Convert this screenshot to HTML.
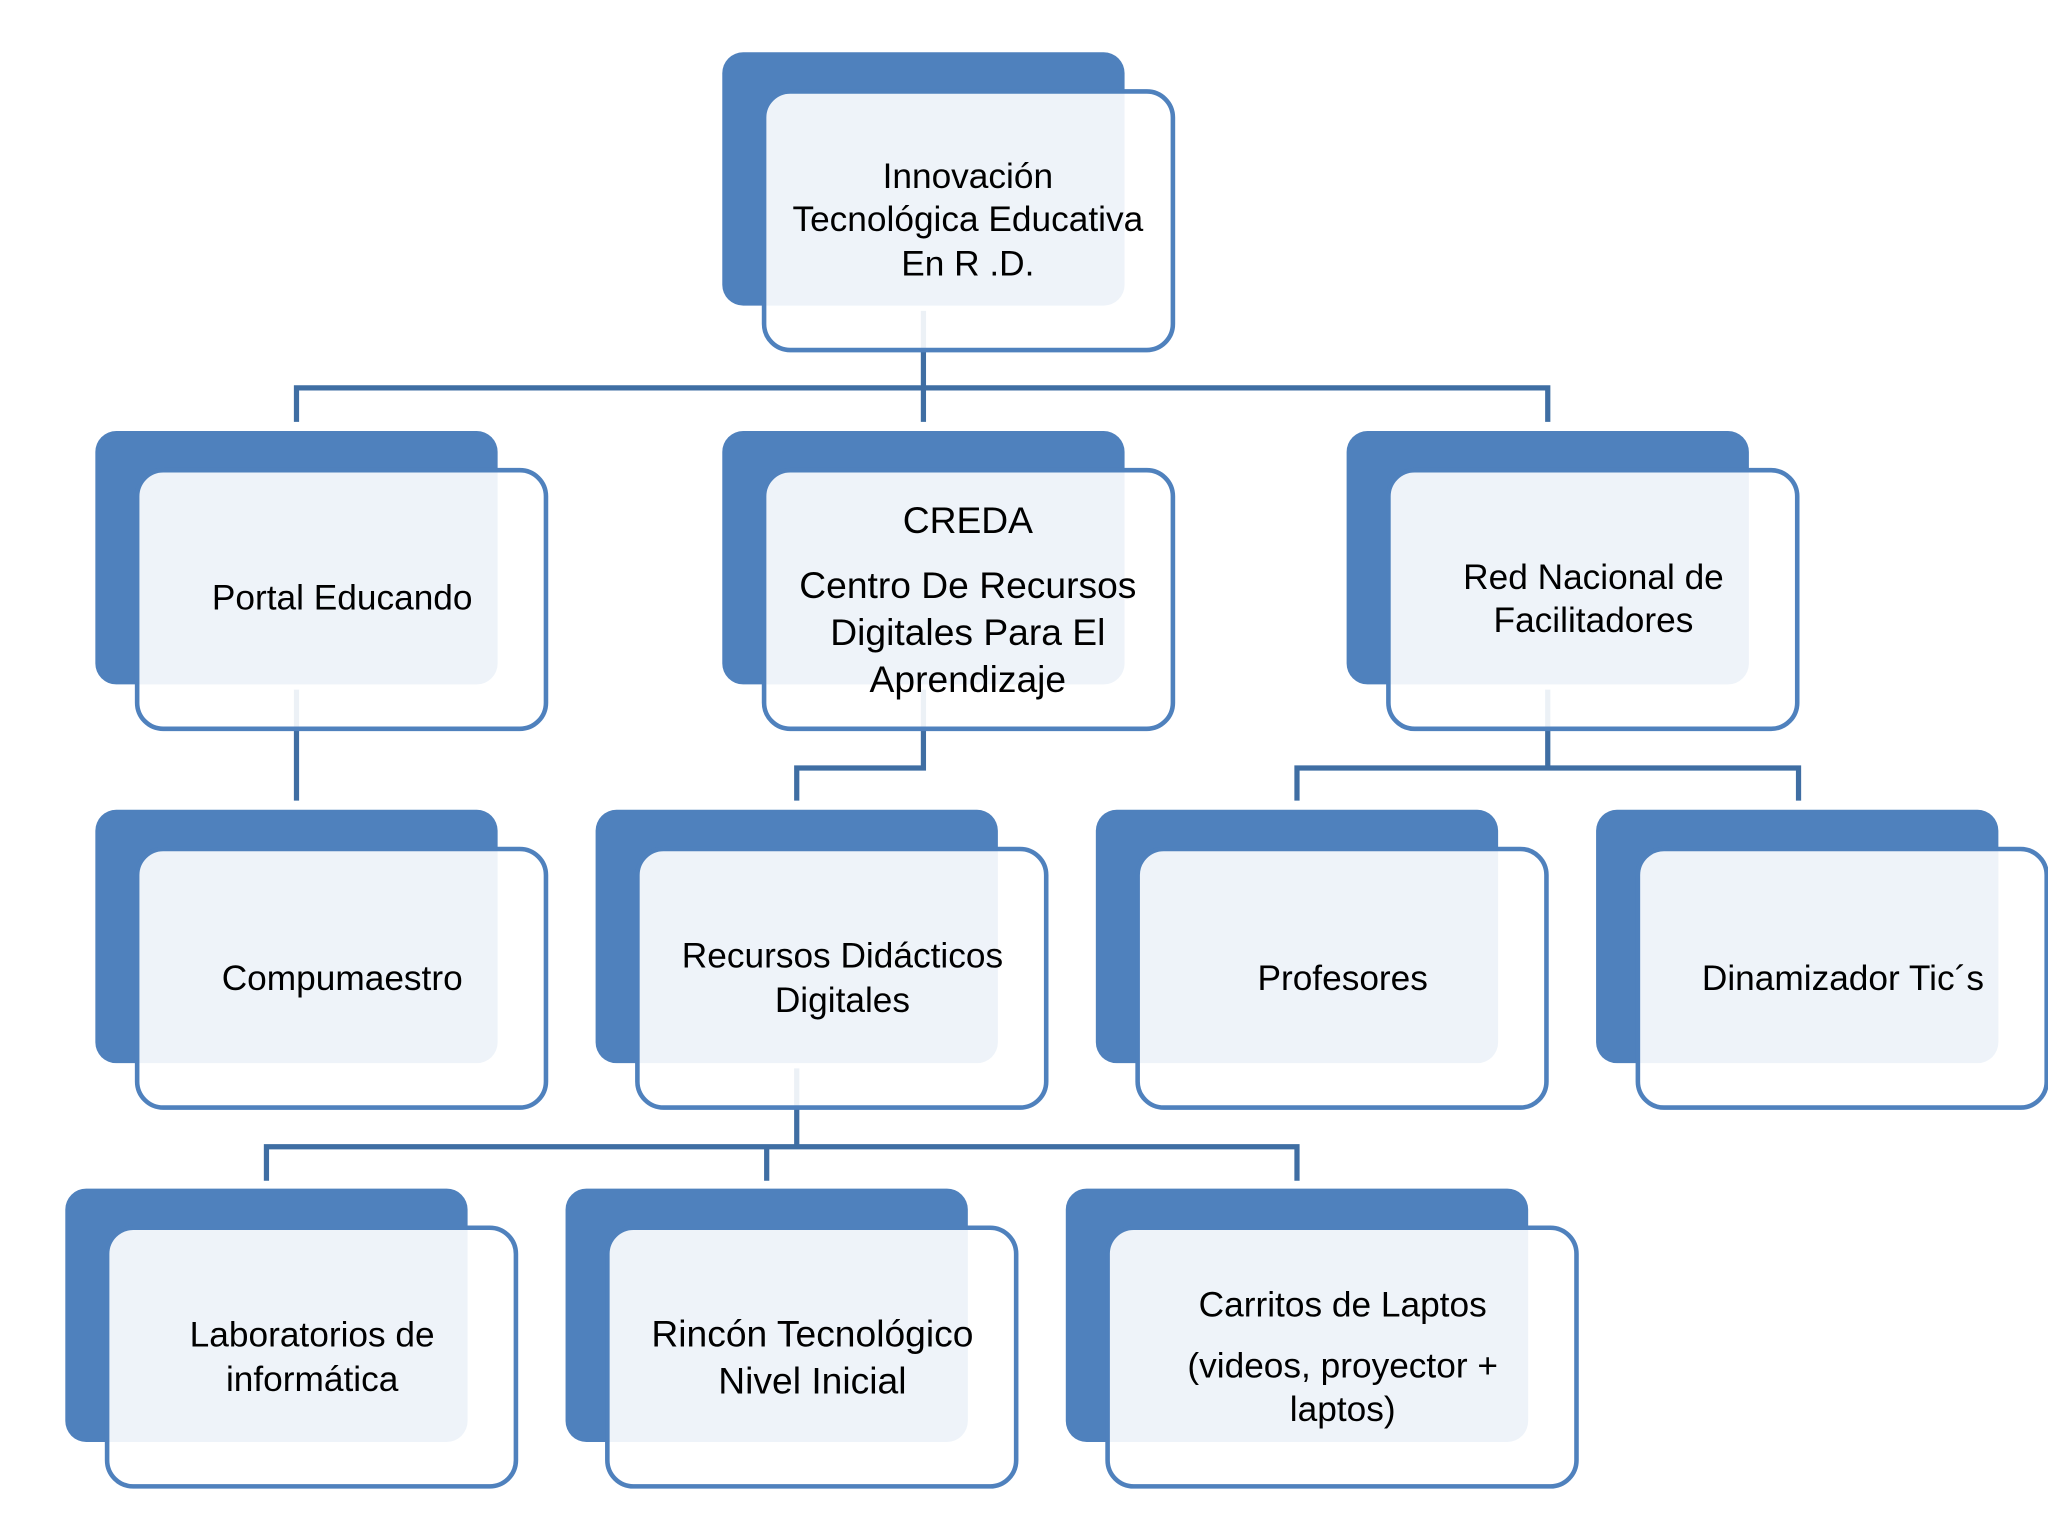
<!DOCTYPE html>
<html><head><meta charset="utf-8"><style>
html,body{margin:0;padding:0;background:#fff;}
svg{display:block;}
text{font-family:"Liberation Sans",sans-serif;fill:#000;text-anchor:middle;dominant-baseline:central;}
</style></head><body>
<svg width="2048" height="1536" viewBox="0 0 1568 1176" xmlns="http://www.w3.org/2000/svg">
<g fill="#4f81bd">
<rect x="553" y="40" width="308" height="194" rx="16"/>
<rect x="73" y="330" width="308" height="194" rx="16"/>
<rect x="553" y="330" width="308" height="194" rx="16"/>
<rect x="1031" y="330" width="308" height="194" rx="16"/>
<rect x="73" y="620" width="308" height="194" rx="16"/>
<rect x="456" y="620" width="308" height="194" rx="16"/>
<rect x="839" y="620" width="308" height="194" rx="16"/>
<rect x="1222" y="620" width="308" height="194" rx="16"/>
<rect x="50" y="910" width="308" height="194" rx="16"/>
<rect x="433" y="910" width="308" height="194" rx="16"/>
<rect x="816" y="910" width="354" height="194" rx="16"/>
</g>
<g stroke="#3f6ea3" stroke-width="4" fill="none">
<path d="M707 238V323M227 323V297H1185V323"/>
<path d="M227 528V613"/>
<path d="M707 528V588H610V613"/>
<path d="M1185 528V588M993 613V588H1377V613"/>
<path d="M610 818V878M204 904V878H993V904M587 878V904"/>
</g>
<g fill="#fff" fill-opacity="0.9" stroke="#4f81bd" stroke-width="3.5">
<rect x="585" y="70" width="313" height="198" rx="20"/>
<rect x="105" y="360" width="313" height="198" rx="20"/>
<rect x="585" y="360" width="313" height="198" rx="20"/>
<rect x="1063" y="360" width="313" height="198" rx="20"/>
<rect x="105" y="650" width="313" height="198" rx="20"/>
<rect x="488" y="650" width="313" height="198" rx="20"/>
<rect x="871" y="650" width="313" height="198" rx="20"/>
<rect x="1254" y="650" width="313" height="198" rx="20"/>
<rect x="82" y="940" width="313" height="198" rx="20"/>
<rect x="465" y="940" width="313" height="198" rx="20"/>
<rect x="848" y="940" width="359" height="198" rx="20"/>
</g>
<g font-size="27">
<text x="741" y="135">Innovación</text>
<text x="741" y="168">Tecnológica Educativa</text>
<text x="741" y="202">En R .D.</text>
<text x="262" y="458">Portal Educando</text>
<text x="1220" y="442">Red Nacional de</text>
<text x="1220" y="475">Facilitadores</text>
<text x="262" y="749">Compumaestro</text>
<text x="645" y="732">Recursos  Didácticos</text>
<text x="645" y="766">Digitales</text>
<text x="1028" y="749">Profesores</text>
<text x="1411" y="749">Dinamizador Tic´s</text>
<text x="239" y="1022">Laboratorios de</text>
<text x="239" y="1056">informática</text>
<text x="1028" y="999">Carritos de  Laptos</text>
<text x="1028" y="1046">(videos, proyector +</text>
<text x="1028" y="1079">laptos)</text>
</g>
<g font-size="28.5">
<text x="741" y="398">CREDA</text>
<text x="741" y="448">Centro De Recursos</text>
<text x="741" y="484">Digitales Para El</text>
<text x="741" y="520">Aprendizaje</text>
<text x="622" y="1021">Rincón Tecnológico</text>
<text x="622" y="1057">Nivel Inicial</text>
</g>
</svg>
</body></html>
